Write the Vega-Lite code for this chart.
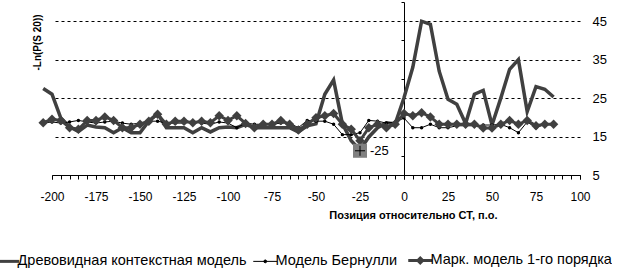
{
  "$schema": "https://vega.github.io/schema/vega-lite/v6.json",
  "width": 528,
  "height": 173,
  "padding": {"left": 0, "top": 1, "right": 0, "bottom": 0},
  "autosize": {"type": "pad"},
  "config": {
    "font": "Liberation Sans",
    "view": {"stroke": null},
    "axis": {"labelColor": "black", "titleColor": "black", "domainColor": "black", "tickColor": "black"}
  },
  "datasets": {
    "series": [
      {"pos": -205, "series": "Древовидная контекстная модель", "val": 27.5},
      {"pos": -200, "series": "Древовидная контекстная модель", "val": 26},
      {"pos": -195, "series": "Древовидная контекстная модель", "val": 19.8},
      {"pos": -190, "series": "Древовидная контекстная модель", "val": 17.5},
      {"pos": -185, "series": "Древовидная контекстная модель", "val": 16.3},
      {"pos": -180, "series": "Древовидная контекстная модель", "val": 18},
      {"pos": -175, "series": "Древовидная контекстная модель", "val": 17.5},
      {"pos": -170, "series": "Древовидная контекстная модель", "val": 17.3},
      {"pos": -165, "series": "Древовидная контекстная модель", "val": 16},
      {"pos": -160, "series": "Древовидная контекстная модель", "val": 17.3},
      {"pos": -155, "series": "Древовидная контекстная модель", "val": 16},
      {"pos": -150, "series": "Древовидная контекстная модель", "val": 16},
      {"pos": -145, "series": "Древовидная контекстная модель", "val": 19},
      {"pos": -140, "series": "Древовидная контекстная модель", "val": 21},
      {"pos": -135, "series": "Древовидная контекстная модель", "val": 17.3},
      {"pos": -130, "series": "Древовидная контекстная модель", "val": 17.3},
      {"pos": -125, "series": "Древовидная контекстная модель", "val": 17.3},
      {"pos": -120, "series": "Древовидная контекстная модель", "val": 16},
      {"pos": -115, "series": "Древовидная контекстная модель", "val": 17.3},
      {"pos": -110, "series": "Древовидная контекстная модель", "val": 16.2},
      {"pos": -105, "series": "Древовидная контекстная модель", "val": 17.3},
      {"pos": -100, "series": "Древовидная контекстная модель", "val": 17.5},
      {"pos": -95, "series": "Древовидная контекстная модель", "val": 17.3},
      {"pos": -90, "series": "Древовидная контекстная модель", "val": 18.2},
      {"pos": -85, "series": "Древовидная контекстная модель", "val": 17.3},
      {"pos": -80, "series": "Древовидная контекстная модель", "val": 17.3},
      {"pos": -75, "series": "Древовидная контекстная модель", "val": 17.3},
      {"pos": -70, "series": "Древовидная контекстная модель", "val": 17.3},
      {"pos": -65, "series": "Древовидная контекстная модель", "val": 17.3},
      {"pos": -60, "series": "Древовидная контекстная модель", "val": 16.2},
      {"pos": -55, "series": "Древовидная контекстная модель", "val": 17.8},
      {"pos": -50, "series": "Древовидная контекстная модель", "val": 18.3},
      {"pos": -45, "series": "Древовидная контекстная модель", "val": 26},
      {"pos": -40, "series": "Древовидная контекстная модель", "val": 29.7},
      {"pos": -35, "series": "Древовидная контекстная модель", "val": 18.3},
      {"pos": -30, "series": "Древовидная контекстная модель", "val": 13.9},
      {"pos": -25, "series": "Древовидная контекстная модель", "val": 11.5},
      {"pos": -20, "series": "Древовидная контекстная модель", "val": 14.9},
      {"pos": -15, "series": "Древовидная контекстная модель", "val": 17.3},
      {"pos": -10, "series": "Древовидная контекстная модель", "val": 18.6},
      {"pos": -5, "series": "Древовидная контекстная модель", "val": 18.3},
      {"pos": 0, "series": "Древовидная контекстная модель", "val": 25.1},
      {"pos": 5, "series": "Древовидная контекстная модель", "val": 33},
      {"pos": 10, "series": "Древовидная контекстная модель", "val": 45},
      {"pos": 15, "series": "Древовидная контекстная модель", "val": 44.2},
      {"pos": 20, "series": "Древовидная контекстная модель", "val": 32},
      {"pos": 25, "series": "Древовидная контекстная модель", "val": 24.7},
      {"pos": 30, "series": "Древовидная контекстная модель", "val": 23.4},
      {"pos": 35, "series": "Древовидная контекстная модель", "val": 18.4},
      {"pos": 40, "series": "Древовидная контекстная модель", "val": 26},
      {"pos": 45, "series": "Древовидная контекстная модель", "val": 27},
      {"pos": 50, "series": "Древовидная контекстная модель", "val": 18},
      {"pos": 55, "series": "Древовидная контекстная модель", "val": 25},
      {"pos": 60, "series": "Древовидная контекстная модель", "val": 32.5},
      {"pos": 65, "series": "Древовидная контекстная модель", "val": 35},
      {"pos": 70, "series": "Древовидная контекстная модель", "val": 21.5},
      {"pos": 75, "series": "Древовидная контекстная модель", "val": 28},
      {"pos": 80, "series": "Древовидная контекстная модель", "val": 27.3},
      {"pos": 85, "series": "Древовидная контекстная модель", "val": 25.3},

      {"pos": -205, "series": "Модель Бернулли", "val": 18.5},
      {"pos": -200, "series": "Модель Бернулли", "val": 18.8},
      {"pos": -195, "series": "Модель Бернулли", "val": 18.5},
      {"pos": -190, "series": "Модель Бернулли", "val": 18.8},
      {"pos": -185, "series": "Модель Бернулли", "val": 19.2},
      {"pos": -180, "series": "Модель Бернулли", "val": 18.8},
      {"pos": -175, "series": "Модель Бернулли", "val": 18.5},
      {"pos": -170, "series": "Модель Бернулли", "val": 18.8},
      {"pos": -165, "series": "Модель Бернулли", "val": 19},
      {"pos": -160, "series": "Модель Бернулли", "val": 18.5},
      {"pos": -155, "series": "Модель Бернулли", "val": 18.2},
      {"pos": -150, "series": "Модель Бернулли", "val": 18.5},
      {"pos": -145, "series": "Модель Бернулли", "val": 19},
      {"pos": -140, "series": "Модель Бернулли", "val": 19},
      {"pos": -135, "series": "Модель Бернулли", "val": 18.5},
      {"pos": -130, "series": "Модель Бернулли", "val": 18.5},
      {"pos": -125, "series": "Модель Бернулли", "val": 18.5},
      {"pos": -120, "series": "Модель Бернулли", "val": 18.8},
      {"pos": -115, "series": "Модель Бернулли", "val": 18.5},
      {"pos": -110, "series": "Модель Бернулли", "val": 18.2},
      {"pos": -105, "series": "Модель Бернулли", "val": 18.8},
      {"pos": -100, "series": "Модель Бернулли", "val": 18.5},
      {"pos": -95, "series": "Модель Бернулли", "val": 17.3},
      {"pos": -90, "series": "Модель Бернулли", "val": 18.5},
      {"pos": -85, "series": "Модель Бернулли", "val": 18.2},
      {"pos": -80, "series": "Модель Бернулли", "val": 18.2},
      {"pos": -75, "series": "Модель Бернулли", "val": 18.2},
      {"pos": -70, "series": "Модель Бернулли", "val": 18.5},
      {"pos": -65, "series": "Модель Бернулли", "val": 18.5},
      {"pos": -60, "series": "Модель Бернулли", "val": 17.3},
      {"pos": -55, "series": "Модель Бернулли", "val": 19.2},
      {"pos": -50, "series": "Модель Бернулли", "val": 19},
      {"pos": -45, "series": "Модель Бернулли", "val": 19},
      {"pos": -40, "series": "Модель Бернулли", "val": 18.2},
      {"pos": -35, "series": "Модель Бернулли", "val": 15.5},
      {"pos": -30, "series": "Модель Бернулли", "val": 15.5},
      {"pos": -25, "series": "Модель Бернулли", "val": 16},
      {"pos": -20, "series": "Модель Бернулли", "val": 19.2},
      {"pos": -15, "series": "Модель Бернулли", "val": 19},
      {"pos": -10, "series": "Модель Бернулли", "val": 18.5},
      {"pos": -5, "series": "Модель Бернулли", "val": 18.8},
      {"pos": 0, "series": "Модель Бернулли", "val": 19.8},
      {"pos": 5, "series": "Модель Бернулли", "val": 17.3},
      {"pos": 10, "series": "Модель Бернулли", "val": 17.3},
      {"pos": 15, "series": "Модель Бернулли", "val": 18.2},
      {"pos": 20, "series": "Модель Бернулли", "val": 17.3},
      {"pos": 25, "series": "Модель Бернулли", "val": 17.3},
      {"pos": 30, "series": "Модель Бернулли", "val": 17.8},
      {"pos": 35, "series": "Модель Бернулли", "val": 17.8},
      {"pos": 40, "series": "Модель Бернулли", "val": 17.8},
      {"pos": 45, "series": "Модель Бернулли", "val": 18},
      {"pos": 50, "series": "Модель Бернулли", "val": 18},
      {"pos": 55, "series": "Модель Бернулли", "val": 18.2},
      {"pos": 60, "series": "Модель Бернулли", "val": 17.3},
      {"pos": 65, "series": "Модель Бернулли", "val": 16},
      {"pos": 70, "series": "Модель Бернулли", "val": 18.8},
      {"pos": 75, "series": "Модель Бернулли", "val": 17.3},
      {"pos": 80, "series": "Модель Бернулли", "val": 18.2},
      {"pos": 85, "series": "Модель Бернулли", "val": 18.2},

      {"pos": -205, "series": "Марк. модель 1-го порядка", "val": 18.6},
      {"pos": -200, "series": "Марк. модель 1-го порядка", "val": 19.5},
      {"pos": -195, "series": "Марк. модель 1-го порядка", "val": 19.2},
      {"pos": -190, "series": "Марк. модель 1-го порядка", "val": 17.3},
      {"pos": -185, "series": "Марк. модель 1-го порядка", "val": 16.9},
      {"pos": -180, "series": "Марк. модель 1-го порядка", "val": 19.2},
      {"pos": -175, "series": "Марк. модель 1-го порядка", "val": 19.2},
      {"pos": -170, "series": "Марк. модель 1-го порядка", "val": 20.1},
      {"pos": -165, "series": "Марк. модель 1-го порядка", "val": 19.2},
      {"pos": -160, "series": "Марк. модель 1-го порядка", "val": 17.3},
      {"pos": -155, "series": "Марк. модель 1-го порядка", "val": 17.3},
      {"pos": -150, "series": "Марк. модель 1-го порядка", "val": 18.2},
      {"pos": -145, "series": "Марк. модель 1-го порядка", "val": 19},
      {"pos": -140, "series": "Марк. модель 1-го порядка", "val": 20.8},
      {"pos": -135, "series": "Марк. модель 1-го порядка", "val": 18.2},
      {"pos": -130, "series": "Марк. модель 1-го порядка", "val": 19},
      {"pos": -125, "series": "Марк. модель 1-го порядка", "val": 19},
      {"pos": -120, "series": "Марк. модель 1-го порядка", "val": 18.6},
      {"pos": -115, "series": "Марк. модель 1-го порядка", "val": 19},
      {"pos": -110, "series": "Марк. модель 1-го порядка", "val": 18.6},
      {"pos": -105, "series": "Марк. модель 1-го порядка", "val": 20.4},
      {"pos": -100, "series": "Марк. модель 1-го порядка", "val": 19.2},
      {"pos": -95, "series": "Марк. модель 1-го порядка", "val": 20.4},
      {"pos": -90, "series": "Марк. модель 1-го порядка", "val": 18.4},
      {"pos": -85, "series": "Марк. модель 1-го порядка", "val": 17.3},
      {"pos": -80, "series": "Марк. модель 1-го порядка", "val": 18.2},
      {"pos": -75, "series": "Марк. модель 1-го порядка", "val": 18.2},
      {"pos": -70, "series": "Марк. модель 1-го порядка", "val": 19.2},
      {"pos": -65, "series": "Марк. модель 1-го порядка", "val": 18.2},
      {"pos": -60, "series": "Марк. модель 1-го порядка", "val": 16.7},
      {"pos": -55, "series": "Марк. модель 1-го порядка", "val": 18.2},
      {"pos": -50, "series": "Марк. модель 1-го порядка", "val": 19.9},
      {"pos": -45, "series": "Марк. модель 1-го порядка", "val": 20.4},
      {"pos": -40, "series": "Марк. модель 1-го порядка", "val": 21},
      {"pos": -35, "series": "Марк. модель 1-го порядка", "val": 18.2},
      {"pos": -30, "series": "Марк. модель 1-го порядка", "val": 16.9},
      {"pos": -25, "series": "Марк. модель 1-го порядка", "val": 13.9},
      {"pos": -20, "series": "Марк. модель 1-го порядка", "val": 17.3},
      {"pos": -15, "series": "Марк. модель 1-го порядка", "val": 18.2},
      {"pos": -10, "series": "Марк. модель 1-го порядка", "val": 17.3},
      {"pos": -5, "series": "Марк. модель 1-го порядка", "val": 18.2},
      {"pos": 0, "series": "Марк. модель 1-го порядка", "val": 21},
      {"pos": 5, "series": "Марк. модель 1-го порядка", "val": 20.4},
      {"pos": 10, "series": "Марк. модель 1-го порядка", "val": 21.2},
      {"pos": 15, "series": "Марк. модель 1-го порядка", "val": 20.1},
      {"pos": 20, "series": "Марк. модель 1-го порядка", "val": 18.2},
      {"pos": 25, "series": "Марк. модель 1-го порядка", "val": 18.2},
      {"pos": 30, "series": "Марк. модель 1-го порядка", "val": 18.2},
      {"pos": 35, "series": "Марк. модель 1-го порядка", "val": 18.2},
      {"pos": 40, "series": "Марк. модель 1-го порядка", "val": 18.2},
      {"pos": 45, "series": "Марк. модель 1-го порядка", "val": 17.2},
      {"pos": 50, "series": "Марк. модель 1-го порядка", "val": 17.2},
      {"pos": 55, "series": "Марк. модель 1-го порядка", "val": 18.2},
      {"pos": 60, "series": "Марк. модель 1-го порядка", "val": 19.2},
      {"pos": 65, "series": "Марк. модель 1-го порядка", "val": 18.2},
      {"pos": 70, "series": "Марк. модель 1-го порядка", "val": 19.2},
      {"pos": 75, "series": "Марк. модель 1-го порядка", "val": 17.8},
      {"pos": 80, "series": "Марк. модель 1-го порядка", "val": 18.2},
      {"pos": 85, "series": "Марк. модель 1-го порядка", "val": 18.2}
    ],
    "ann": [{"pos": -25, "val": 11.3, "label": "-25"}]
  },
  "resolve": {"axis": {"y": "independent", "x": "independent"}},
  "layer": [
    {
      "data": {"name": "series"},
      "transform": [{"filter": "datum.series === 'Древовидная контекстная модель'"}],
      "mark": {"type": "line", "strokeWidth": 3.5, "strokeJoin": "miter"},
      "encoding": {
        "x": {
          "field": "pos", "type": "quantitative",
          "scale": {"domain": [-200, 100], "nice": false, "zero": false},
          "axis": {
            "values": [-200, -175, -150, -125, -100, -75, -50, -25, 0, 25, 50, 75, 100],
            "labelExpr": "'' + datum.value",
            "labelOverlap": false,
            "labelFlush": false,
            "labelBound": false,
            "labelFontSize": 12,
            "labelPadding": 12,
            "tickSize": 4,
            "grid": false,
            "title": "Позиция относительно СТ, п.о.",
            "titleFontSize": 11,
            "titleFontWeight": "bold",
            "titleX": 445,
            "titleY": 40,
            "titleAlign": "right",
            "titleBaseline": "middle",
            "titleAnchor": "end"
          }
        },
        "y": {
          "field": "val", "type": "quantitative",
          "scale": {"domain": [5, 50], "nice": false, "zero": false},
          "axis": {
            "orient": "right",
            "values": [5, 15, 25, 35, 45],
            "grid": true,
            "gridDash": [3, 3],
            "gridColor": "black",
            "gridOpacity": 1,
            "domain": false,
            "ticks": false,
            "labelPadding": 12,
            "labelFontSize": 13,
            "title": null
          }
        },
        "color": {
          "field": "series", "type": "nominal",
          "scale": {
            "domain": ["Древовидная контекстная модель", "Модель Бернулли", "Марк. модель 1-го порядка"],
            "range": ["#404040", "#000000", "#404040"]
          },
          "legend": {
            "orient": "none",
            "legendX": -52,
            "legendY": 251,
            "direction": "horizontal",
            "title": null,
            "labelFontSize": 14.5,
            "labelColor": "black",
            "labelLimit": 0,
            "labelOffset": 3,
            "columnPadding": 4,
            "symbolSize": 576,
            "padding": 0,
            "encode": {
              "symbols": {
                "update": {
                  "shape": {"signal": "datum.value == 'Модель Бернулли' ? 'M-1,0H1M-0.12,0A0.12,0.12,0,1,1,0.12,0A0.12,0.12,0,1,1,-0.12,0Z' : datum.value == 'Марк. модель 1-го порядка' ? 'M-1,0H1M0,-0.2L0.2,0L0,0.2L-0.2,0Z' : 'M-1,0H1'"},
                  "strokeWidth": {"signal": "datum.value == 'Модель Бернулли' ? 1 : 3"},
                  "fill": {"signal": "datum.value == 'Модель Бернулли' ? '#000000' : '#404040'"},
                  "stroke": {"signal": "datum.value == 'Модель Бернулли' ? '#000000' : '#404040'"},
                  "fillOpacity": {"value": 1},
                  "opacity": {"value": 1}
                }
              }
            }
          }
        }
      }
    },
    {
      "data": {"name": "series"},
      "transform": [{"filter": "datum.series === 'Модель Бернулли'"}],
      "mark": {"type": "line", "strokeWidth": 1},
      "encoding": {
        "x": {
          "field": "pos", "type": "quantitative",
          "axis": {
            "orient": "bottom",
            "values": [-200,-195,-190,-185,-180,-175,-170,-165,-160,-155,-150,-145,-140,-135,-130,-125,-120,-115,-110,-105,-100,-95,-90,-85,-80,-75,-70,-65,-60,-55,-50,-45,-40,-35,-30,-25,-20,-15,-10,-5,0,5,10,15,20,25,30,35,40,45,50,55,60,65,70,75,80,85,90,95,100],
            "labels": false,
            "domain": false,
            "grid": false,
            "tickSize": 4,
            "title": null
          }
        },
        "y": {"field": "val", "type": "quantitative", "axis": null},
        "color": {"field": "series", "type": "nominal"}
      }
    },
    {
      "data": {"name": "series"},
      "transform": [{"filter": "datum.series === 'Модель Бернулли'"}],
      "mark": {"type": "point", "shape": "circle", "filled": true, "size": 12, "opacity": 1},
      "encoding": {
        "x": {"field": "pos", "type": "quantitative", "axis": null},
        "y": {"field": "val", "type": "quantitative", "axis": null},
        "color": {"field": "series", "type": "nominal"}
      }
    },
    {
      "data": {"name": "series"},
      "transform": [{"filter": "datum.series === 'Марк. модель 1-го порядка'"}],
      "mark": {"type": "line", "strokeWidth": 3},
      "encoding": {
        "x": {"field": "pos", "type": "quantitative", "axis": null},
        "y": {"field": "val", "type": "quantitative", "axis": null},
        "color": {"field": "series", "type": "nominal"}
      }
    },
    {
      "data": {"name": "series"},
      "transform": [{"filter": "datum.series === 'Марк. модель 1-го порядка'"}],
      "mark": {"type": "point", "shape": "diamond", "filled": true, "size": 90, "opacity": 1},
      "encoding": {
        "x": {"field": "pos", "type": "quantitative", "axis": null},
        "y": {"field": "val", "type": "quantitative", "axis": null},
        "color": {"field": "series", "type": "nominal"}
      }
    },
    {
      "data": {"name": "ann"},
      "mark": {"type": "point", "shape": "square", "filled": true, "size": 196, "color": "#808080", "opacity": 1},
      "encoding": {
        "x": {"field": "pos", "type": "quantitative", "axis": null},
        "y": {
          "field": "val", "type": "quantitative",
          "axis": {
            "orient": "left",
            "offset": -352,
            "values": [5, 10, 20, 30, 40, 50],
            "labels": false,
            "grid": false,
            "tickSize": 3,
            "domainColor": "black",
            "tickColor": "black",
            "title": "-Ln(P(S 20))",
            "titleFontSize": 10,
            "titleFontWeight": "bold",
            "titleX": -367,
            "titleY": 40,
            "titleAngle": -90,
            "titleAlign": "center",
            "titleBaseline": "middle"
          }
        }
      }
    },
    {
      "data": {"name": "ann"},
      "mark": {"type": "point", "shape": "M-1,0H1M0,-1V1", "filled": false, "size": 100, "stroke": "black", "strokeWidth": 1, "opacity": 1},
      "encoding": {
        "x": {"field": "pos", "type": "quantitative", "axis": null},
        "y": {"field": "val", "type": "quantitative", "axis": null}
      }
    },
    {
      "data": {"name": "ann"},
      "mark": {"type": "text", "align": "left", "baseline": "middle", "dx": 10, "fontSize": 13, "color": "black"},
      "encoding": {
        "x": {"field": "pos", "type": "quantitative", "axis": null},
        "y": {"field": "val", "type": "quantitative", "axis": null},
        "text": {"field": "label"}
      }
    }
  ]
}
